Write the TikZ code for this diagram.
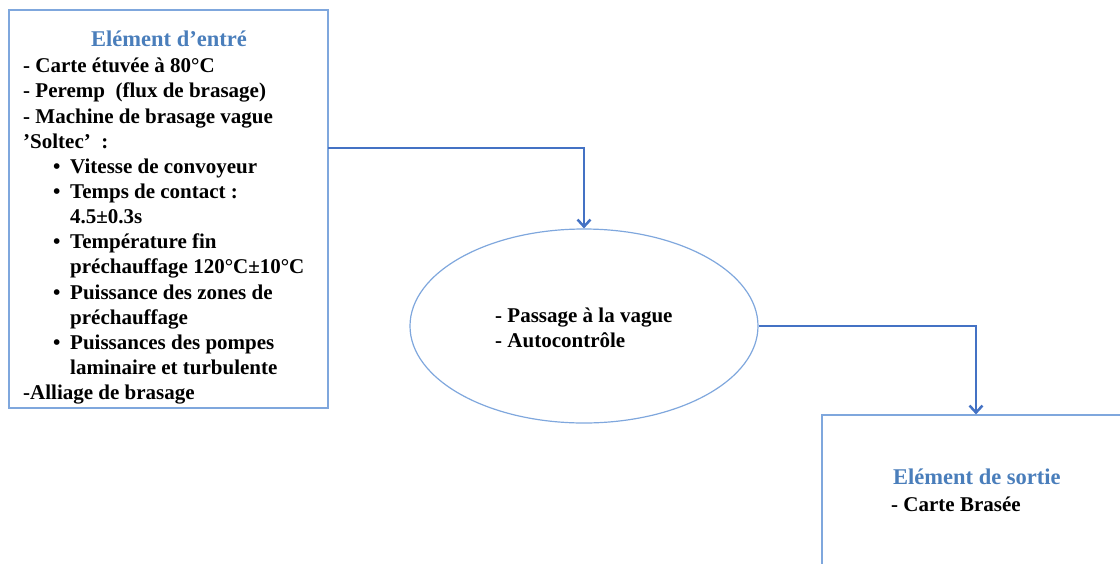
\documentclass[tikz,border=0pt]{standalone}
\usepackage{fontspec}
\setmainfont{Liberation Serif}
\usetikzlibrary{shapes.geometric,arrows.meta}
\definecolor{lineblue}{HTML}{4472C4}
\definecolor{boxblue}{HTML}{7FA7DD}
\definecolor{titleblue}{HTML}{4A7EBB}
\begin{document}
\begin{tikzpicture}[x=1pt,y=-1pt,
  boxframe/.style={draw=boxblue,line width=1.2pt,rectangle,inner sep=0pt},
  bodytext/.style={font={\fontsize{21pt}{25.15pt}\selectfont\bfseries},align=left,inner sep=0pt,text=black},
  titletext/.style={font={\fontsize{22.5pt}{26pt}\selectfont\bfseries},text=titleblue,inner sep=0pt},
  flow/.style={draw=lineblue,line width=2.5pt,-{Straight Barb[length=7pt,width=13pt,line width=2.5pt]}}
]
\useasboundingbox (0,0) rectangle (1120,563);
\clip (0,0) rectangle (1120,563);
% boxes
\node[boxframe,minimum width=319pt,minimum height=398pt] (entree) at (168.5,209) {};
\node[boxframe,draw=boxblue,ellipse,minimum width=348pt,minimum height=194pt] (proc) at (584,326) {};
\node[boxframe,minimum width=308pt,minimum height=200pt] (sortie) at (976,515) {};
% texts
\node[titletext,anchor=base] (t1) at (169,46) {Elément d’entré};
\node[bodytext,anchor=north west] (l1) at (23,58) {%
- Carte étuvée à 80°C\\
- Peremp\ \ (flux de brasage)\\
- Machine de brasage vague\\
’Soltec’\ \ :\\
\hspace*{30pt}\makebox[17pt][l]{\textbullet}Vitesse de convoyeur\\
\hspace*{30pt}\makebox[17pt][l]{\textbullet}Temps de contact :\\
\hspace*{47pt}4.5±0.3s\\
\hspace*{30pt}\makebox[17pt][l]{\textbullet}Température fin\\
\hspace*{47pt}préchauffage 120°C±10°C\\
\hspace*{30pt}\makebox[17pt][l]{\textbullet}Puissance des zones de\\
\hspace*{47pt}préchauffage\\
\hspace*{30pt}\makebox[17pt][l]{\textbullet}Puissances des pompes\\
\hspace*{47pt}laminaire et turbulente\\
-Alliage de brasage};
\node[bodytext,anchor=north west] (l2) at (495,308) {- Passage à la vague\\- Autocontrôle};
\node[titletext,anchor=base west] (t3) at (893,484) {Elément de sortie};
\node[bodytext,anchor=base west] (l3) at (891,511) {- Carte Brasée};
% connectors
\coordinate (k1) at (328,148);
\draw[flow] (k1) -| (proc.north);
\draw[flow] (proc.east) -| (sortie.north);
\end{tikzpicture}
\end{document}
